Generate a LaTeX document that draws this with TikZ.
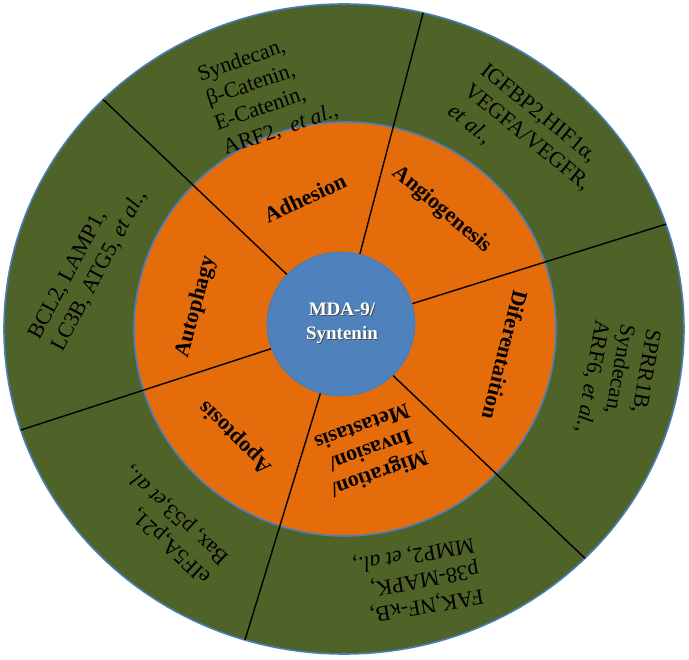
\documentclass[tikz,border=0pt]{standalone}
\usepackage{fontspec}
\setmainfont{Liberation Serif}
\usepackage{tikz}

\definecolor{ringgreen}{HTML}{4F6228}
\definecolor{ringorange}{HTML}{E46C0A}
\definecolor{hubblue}{HTML}{4F81BD}
\definecolor{rimblue}{HTML}{4A7EBB}

\begin{document}
\begin{tikzpicture}[
  x=1pt, y=1pt,
  rim/.style={draw=rimblue, line width=1.6pt},
  divider/.style={draw=black, line width=1.4pt},
  inlabel/.style={font=\fontsize{22}{25}\selectfont\bfseries, align=center, inner sep=0pt},
  outlabel/.style={font=\fontsize{22}{26}\selectfont, align=left, inner sep=0pt},
  hubtext/.style={font=\fontsize{19}{24}\selectfont\bfseries, align=center, inner sep=0pt, text=white}
]
\useasboundingbox (-341,-336) rectangle (348,324);
\path[fill=ringgreen, rim] (3,-5) ellipse [x radius=340, y radius=325];
\path[fill=ringorange, rim] (4,-5) ellipse [x radius=211, y radius=207];
\coordinate (hub) at (0,-2);
\begin{scope}
  \clip (3,-5) ellipse [x radius=340, y radius=325];
  \foreach \a in {136.4,75.3,17.4,-43.6,-107,198}
    \draw[divider] (hub) -- ++(\a:400);
\end{scope}
\path[fill=hubblue, rim] (0,0) ellipse [x radius=73.5, y radius=71.5];
\node[hubtext, text=black!70] (mdash) at (2,0) {MDA-9/\\Syntenin};
\node[hubtext] (mda) at (1,1) {MDA-9/\\Syntenin};

\node[inlabel, rotate=25] (adh) at (-36,126) {Adhesion};
\node[inlabel, rotate=-40] (ang) at (101,114) {Angiogenesis};
\node[inlabel, rotate=-104] (dif) at (164,-31) {Diferentaition};
\node[inlabel, rotate=200] (mig) at (30,-127) {Migration/\\Invasion/\\Metastasis};
\node[inlabel, rotate=135] (apo) at (-105,-113) {Apoptosis};
\node[inlabel, rotate=75] (aut) at (-145,17) {Autophagy};

\node[outlabel, rotate=19] (adhg) at (-73,231) {Syndecan,\\β-Catenin,\\E-Catenin,\\ARF2, \ \textit{et al.},};
\node[outlabel, rotate=-39] (angg) at (186,186) {IGFBP2,HIF1α,\\VEGFA/VEGFR,\\\textit{et al.},};
\node[outlabel, rotate=-100] (difg) at (276,-57) {SPRR1B,\\Syndecan,\\ARF6, \textit{et al.},};
\node[outlabel, rotate=190] (migg) at (77,-256) {FAK,NF-κB,\\p38-MAPK,\\MMP2, \textit{et al.},};
\node[outlabel, rotate=137] (apog) at (-173,-200) {eIF5A,p21,\\Bax, p53,\textit{et al.},};
\node[outlabel, rotate=62] (autg) at (-253,59) {BCL2, LAMP1,\\LC3B, ATG5, \textit{et al.},};
\end{tikzpicture}
\end{document}
